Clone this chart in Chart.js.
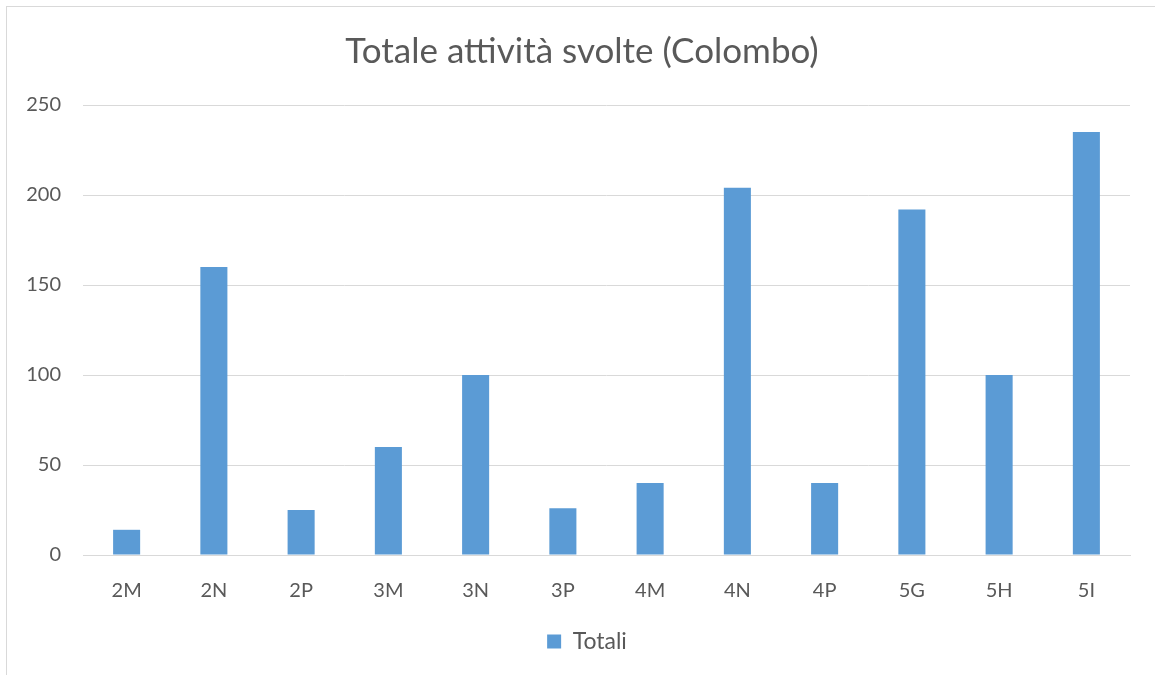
<!DOCTYPE html>
<html>
<head>
<meta charset="utf-8">
<script src="https://cdn.jsdelivr.net/npm/chart.js@4.4.0/dist/chart.umd.min.js"></script>
<style>
    html, body { margin: 0; padding: 0; background: #fff; overflow: hidden; }
    .frame {
        position: absolute; left: 6px; top: 6px;
        width: 1170px; height: 690px;
        border: 1px solid #D9D9D9;
    }
    .wrap { position: absolute; left: 0; top: 0; width: 1155px; height: 675px; }
</style>
</head>
<body>
<div class="frame"></div>
<div class="wrap"><canvas id="chart"></canvas></div>
<script>
const categories = ['2M', '2N', '2P', '3M', '3N', '3P', '4M', '4N', '4P', '5G', '5H', '5I'];
const totali = [14, 160, 25, 60, 100, 26, 40, 204, 40, 192, 100, 235];
const yTicks = [0, 50, 100, 150, 200, 250];

const textColor = '#595959';
const gridColor = '#D9D9D9';
const fontName = 'Lato, "Open Sans", sans-serif';

// sposta titolo e legenda un po' a destra, come nell'originale
const shiftBoxes = {
    id: 'shiftBoxes',
    afterLayout(chart) {
        chart.titleBlock.left += 17;
        chart.titleBlock.right += 17;
        chart.legend.left += 22;
        chart.legend.right += 22;
    }
};

const config = {
    type: 'bar',
    data: {
        labels: categories,
        datasets: [{
            label: 'Totali',
            data: totali,
            backgroundColor: '#5B9BD5',
            borderWidth: 0,
            barPercentage: 0.31,
            categoryPercentage: 1.0
        }]
    },
    options: {
        responsive: true,
        maintainAspectRatio: false,
        animation: false,
        layout: { padding: { left: 0, right: 25, top: 0, bottom: 12 } },
        plugins: {
            title: {
                display: true,
                text: 'Totale attività svolte (Colombo)',
                color: textColor,
                font: { family: fontName, size: 35, weight: 'normal' },
                padding: { top: 31, bottom: 32 }
            },
            legend: {
                position: 'bottom',
                labels: {
                    color: textColor,
                    font: { family: fontName, size: 23 },
                    boxWidth: 14,
                    boxHeight: 14,
                    padding: 10
                }
            },
            tooltip: { enabled: false }
        },
        scales: {
            x: {
                grid: { display: false },
                border: { display: true, color: gridColor, width: 1 },
                ticks: {
                    color: textColor,
                    font: { family: fontName, size: 20 },
                    padding: 16
                },
                afterFit: (scale) => { scale.height = 65; }
            },
            y: {
                min: 0,
                max: 250,
                afterBuildTicks: (scale) => { scale.ticks = yTicks.map(v => ({ value: v })); },
                grid: { color: gridColor, lineWidth: 1, drawTicks: false },
                border: { display: false },
                ticks: {
                    color: textColor,
                    font: { family: fontName, size: 20 },
                    padding: 22
                },
                afterFit: (scale) => { scale.width = 83; }
            }
        }
    },
    plugins: [shiftBoxes]
};

let chart = new Chart(document.getElementById('chart'), config);
</script>
</body>
</html>
